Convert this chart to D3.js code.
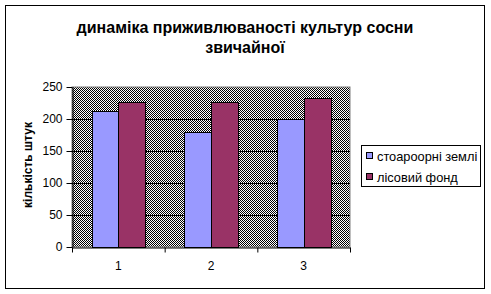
<!DOCTYPE html>
<html>
<head>
<meta charset="utf-8">
<script src="https://cdn.jsdelivr.net/npm/d3@7"></script>
<style>
  body{margin:0;background:#fff;}
  svg{display:block;font-family:Arial,"Liberation Sans",sans-serif;}
</style>
</head>
<body>
<div id="chart"></div>
<script>
// chart data
const categories = ['1','2','3'];
const seriesNames = ['стоароорні землі', 'лісовий фонд'];
const seriesColors = ['#9999ff','#993366'];
const agriValues = [213,179,200];
const forestValues = [227,227,233];
const yTicks = [0,50,100,150,200,250];
const titleLines = ['динаміка приживлюваності культур сосни','звичайної'];
const yTitle = 'кількість штук';

const W=491,H=294;
const svg=d3.select('#chart').append('svg').attr('width',W).attr('height',H);

// checker pattern for plot area
const defs=svg.append('defs');
const pat=defs.append('pattern').attr('id','chk').attr('width',2).attr('height',2).attr('patternUnits','userSpaceOnUse');
pat.append('rect').attr('width',2).attr('height',2).attr('fill','#fff');
pat.append('rect').attr('x',0).attr('y',0).attr('width',1).attr('height',1).attr('fill','#000');
pat.append('rect').attr('x',1).attr('y',1).attr('width',1).attr('height',1).attr('fill','#000');

// outer frame
svg.append('rect').attr('x',5.5).attr('y',5.5).attr('width',479).attr('height',283)
  .attr('fill','#fff').attr('stroke','#000').attr('stroke-width',1);

const m={left:72,top:87,right:350,bottom:247};
const x=d3.scaleBand().domain(categories).range([m.left,m.right]).paddingInner(0).paddingOuter(0);
const y=d3.scaleLinear().domain([0,250]).range([m.bottom,m.top]);
const xs=d3.scaleBand().domain([0,1]).range([0,x.bandwidth()]).paddingInner(0).paddingOuter(0.735);

// plot area
svg.append('rect').attr('x',m.left).attr('y',m.top).attr('width',m.right-m.left).attr('height',m.bottom-m.top)
  .attr('fill','url(#chk)').attr('stroke','#808080').attr('stroke-width',1);

// gridlines
svg.append('g').selectAll('line').data(yTicks.filter(d=>d>0 && d<250)).join('line')
  .attr('x1',m.left).attr('x2',m.right)
  .attr('y1',d=>Math.round(y(d))+0.5).attr('y2',d=>Math.round(y(d))+0.5)
  .attr('stroke','#000').attr('stroke-width',1);

// bars
const series=[agriValues,forestValues];
series.forEach((vals,si)=>{
  svg.append('g').selectAll('rect').data(vals).join('rect')
    .attr('x',(d,i)=>Math.round(x(categories[i])+xs(si))+0.5)
    .attr('y',d=>Math.round(y(d))+0.5)
    .attr('width',Math.round(xs.bandwidth()))
    .attr('height',d=>Math.round(y(0))-Math.round(y(d)))
    .attr('fill',seriesColors[si]).attr('stroke','#000').attr('stroke-width',1);
});

// axes
const yAxis=svg.append('g').attr('transform',`translate(${m.left+0.5},0)`)
  .call(d3.axisLeft(y).tickValues(yTicks).tickSize(6).tickSizeOuter(0).tickPadding(4));
const xAxis=svg.append('g').attr('transform',`translate(0,${Math.round(y(0))+0.5})`)
  .call(d3.axisBottom(d3.scaleLinear().domain([0,3]).range([m.left,m.right])).tickValues([0,1,2,3]).tickFormat('').tickSize(5).tickSizeOuter(0));
svg.append('g').selectAll('text').data(categories).join('text')
  .attr('x',d=>x(d)+x.bandwidth()/2).attr('y',270)
  .attr('text-anchor','middle').attr('font-size',12).attr('fill','#000').text(d=>d);
[yAxis,xAxis].forEach(g=>{
  g.selectAll('path,line').attr('stroke','#000');
  g.selectAll('text').attr('font-size',12).attr('fill','#000').attr('font-family','Arial,"Liberation Sans",sans-serif');
});

// title
svg.append('g').selectAll('text').data(titleLines).join('text')
  .attr('x',245).attr('y',(d,i)=>33+i*20)
  .attr('text-anchor','middle').attr('font-size',16).attr('font-weight','bold').text(d=>d);

// y title
svg.append('text').attr('transform','translate(32,165) rotate(-90)')
  .attr('text-anchor','middle').attr('font-size',12).attr('font-weight','bold').text(yTitle);

// legend
const lg=svg.append('g');
lg.append('rect').attr('x',361.5).attr('y',145.5).attr('width',119).attr('height',41)
  .attr('fill','#fff').attr('stroke','#000');
seriesNames.forEach((n,i)=>{
  const cy=156+i*21;
  lg.append('rect').attr('x',366.5).attr('y',cy-3.5).attr('width',6).attr('height',6)
    .attr('fill',seriesColors[i]).attr('stroke','#000');
  lg.append('text').attr('x',377).attr('y',cy+4.5).attr('font-size',12.8).text(n);
});
</script>
</body>
</html>
